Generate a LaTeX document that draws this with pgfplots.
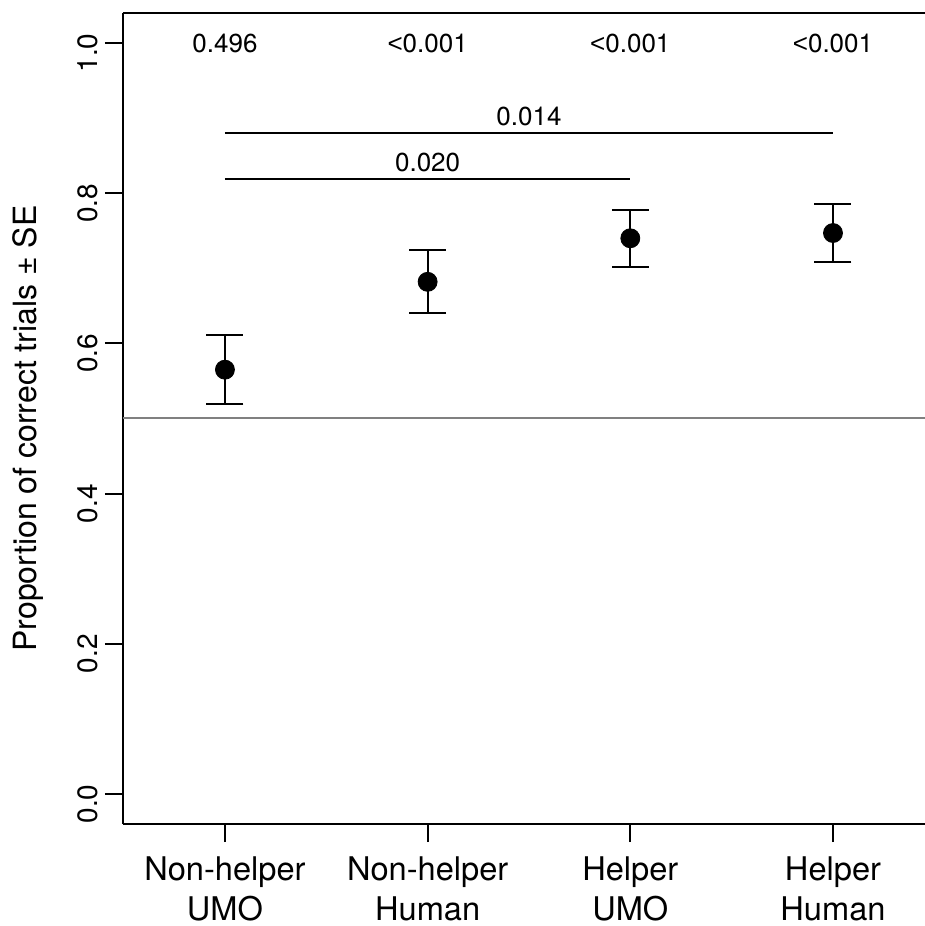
\documentclass[border=0pt]{standalone}
\usepackage{pgfplots}
\pgfplotsset{compat=1.18}
\usepackage{fontspec}
\setmainfont{TeX Gyre Heros}
\newfontfamily\lib{Liberation Sans}

\begin{document}
\begin{tikzpicture}[x=1pt,y=1pt]
\useasboundingbox (0,0) rectangle (462.5,463);
\begin{axis}[
    at={(61.5pt,51pt)}, anchor=south west,
    scale only axis,
    width=401pt, height=405.5pt,
    xmin=0.497, xmax=4.454,
    ymin=-0.040, ymax=1.040,
    axis x line*=box, axis y line*=left,
    xtick pos=bottom, ytick pos=left,
    axis line style={line width=1pt},
    every tick/.style={black, line width=1pt},
    tick align=outside,
    major tick length=9pt,
    xtick={1,2,3,4},
    xticklabels={Non-helper\\UMO, Non-helper\\Human, Helper\\UMO, Helper\\Human},
    xticklabel style={align=center, font=\fontsize{16.3}{20}\selectfont, yshift=-4pt},
    ytick={0,0.2,0.4,0.6,0.8,1.0},
    yticklabel style={rotate=90, anchor=south, font=\fontsize{14}{16}\selectfont, xshift=-5pt},
    /pgf/number format/.cd, fixed, fixed zerofill, precision=1, assume math mode=true,
    /pgfplots/.cd,
    ylabel={Proportion of correct trials ± SE},
    every axis y label/.style={at={(rel axis cs:0,0.5)}, xshift=-47.5pt, yshift=-5pt, rotate=90,
        anchor=center, font=\fontsize{16}{18}\selectfont},
    clip=false,
]
% reference line at 0.5
\addplot[gray, line width=1pt] coordinates {(0.497,0.5) (4.454,0.5)};

% means with SE
\addplot[black, only marks, mark=*, mark size=4.75pt,
    error bars/.cd, y dir=both, y explicit,
    error bar style={line width=1pt},
    error mark options={rotate=90, mark size=9.25pt, line width=1pt}]
  coordinates {
    (1,0.565) +- (0,0.046)
    (2,0.682) +- (0,0.042)
    (3,0.740) +- (0,0.038)
    (4,0.747) +- (0,0.038)
  };

% comparison brackets
\addplot[black, line width=1pt] coordinates {(1,0.880) (4,0.880)};
\addplot[black, line width=1pt] coordinates {(1,0.819) (3,0.819)};

\node[font=\fontsize{13}{15}\selectfont] at (axis cs:2.5,0.902) {0.014};
\node[font=\fontsize{13}{15}\selectfont] at (axis cs:2,0.841) {0.020};
\node[font=\fontsize{13}{15}\selectfont] at (axis cs:1,0.999) {0.496};
\node[font=\fontsize{13}{15}\selectfont] at (axis cs:2,0.999) {{\lib <}0.001};
\node[font=\fontsize{13}{15}\selectfont] at (axis cs:3,0.999) {{\lib <}0.001};
\node[font=\fontsize{13}{15}\selectfont] at (axis cs:4,0.999) {{\lib <}0.001};
\end{axis}
\end{tikzpicture}
\end{document}
